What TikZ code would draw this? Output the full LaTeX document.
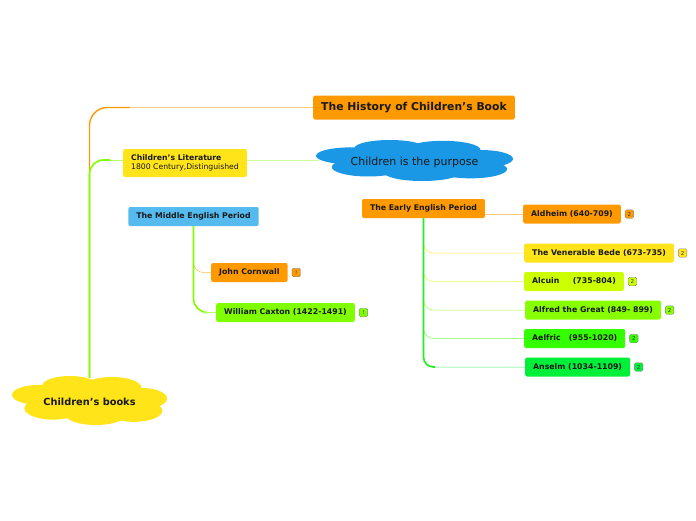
\documentclass[tikz,border=0pt]{standalone}
\usepackage{fontspec}
\setmainfont{DejaVu Sans}
\usetikzlibrary{positioning}

\definecolor{orangenode}{HTML}{FF9900}
\definecolor{yellownode}{HTML}{FFE41A}
\definecolor{cloudblue}{HTML}{1A98E6}
\definecolor{midblue}{HTML}{55BBEE}
\definecolor{limenode}{HTML}{80FF00}
\definecolor{alcuingreen}{HTML}{CCFF00}
\definecolor{alfredgreen}{HTML}{88FF00}
\definecolor{aelfricgreen}{HTML}{33FF00}
\definecolor{anselmgreen}{HTML}{00F03A}
\definecolor{stemgreen}{HTML}{22EE22}

\tikzset{
  topic/.style = {shape = rectangle, rounded corners = 2pt, inner xsep = 8pt, inner ysep = 0pt,
                  minimum height = 19pt, font = \fontsize{7.8}{8}\selectfont\bfseries, text = black!90},
  badge/.style = {shape = rectangle, rounded corners = 1.5pt, draw = gray, minimum size = 8.5pt,
                  inner sep = 0pt, font = \fontsize{5.5}{5.5}\selectfont, text = black!80},
  branch/.style = {rounded corners = 10pt, line width = 0.5pt},
  puffs/.pic = {
    \foreach \cx/\cy/\rx/\ry in {-0.65/-0.23/0.35/0.41, -0.25/-0.6/0.36/0.4, 0.29/-0.52/0.38/0.44,
                                 0.68/-0.08/0.32/0.43, 0.57/0.42/0.37/0.45, 0.08/0.58/0.39/0.42,
                                 -0.47/0.32/0.37/0.46, 0/0/0.65/0.6}
      \fill (\cx,\cy) ellipse ({\rx} and {\ry});
  }
}

\begin{document}
\begin{tikzpicture}[x = 1pt, y = -1pt]
\useasboundingbox (0,0) rectangle (696,520);

% clouds
\begin{scope}[shift = {(89.5pt,-400.5pt)}, x = 77.5pt, y = -24.5pt]
  \pic[fill = yellownode] {puffs};
\end{scope}
\begin{scope}[shift = {(414.5pt,-160.5pt)}, x = 98.5pt, y = -20.5pt]
  \pic[fill = cloudblue] {puffs};
\end{scope}

% main nodes
\node[minimum width = 150pt, minimum height = 48pt, inner sep = 0pt, text = black!90,
      font = \fontsize{9.8}{10}\selectfont\bfseries] (root) at (89.5,402) {Children's books};
\node[topic, fill = orangenode, minimum height = 24pt, font = \fontsize{10.8}{12}\selectfont\bfseries] (hist) at (414,107.5) {The History of Children's Book};
\node[topic, fill = yellownode, anchor = west, align = left, minimum height = 28pt,
      font = \fontsize{7.7}{9}\selectfont] (lit) at (123,163) {\textbf{Children's Literature}\\1800 Century,Distinguished};
\node[minimum width = 190pt, minimum height = 40pt, inner sep = 0pt, text = black!90,
      font = \fontsize{11}{12}\selectfont] (purpose) at (414.5,162) {Children is the purpose};

% middle english
\node[topic, fill = midblue] (mid) at (193.5,216.5) {The Middle English Period};
\node[topic, fill = orangenode, anchor = west] (cornwall) at (211,272.5) {John Cornwall};
\node[topic, fill = limenode, anchor = west] (caxton) at (216,312.5) {William Caxton (1422-1491)};

% early english
\node[topic, fill = orangenode] (early) at (423.5,208.5) {The Early English Period};
\node[topic, fill = orangenode, anchor = west] (aldheim) at (523,214) {Aldheim (640-709)};
\node[topic, fill = yellownode, anchor = west] (bede) at (524,253) {The Venerable Bede (673-735)};
\node[topic, fill = alcuingreen, anchor = west] (alcuin) at (524,281.5) {Alcuin\ \ \ \ \ (735-804)};
\node[topic, fill = alfredgreen, anchor = west] (alfred) at (525,310) {Alfred the Great (849- 899)};
\node[topic, fill = aelfricgreen, anchor = west] (aelfric) at (524,338.5) {Aelfric\ \ \ (955-1020)};
\node[topic, fill = anselmgreen, anchor = west] (anselm) at (525,367) {Anselm (1034-1109)};

% badges
\node[badge, fill = orangenode, right = 4pt of cornwall] (b1) {!};
\node[badge, fill = limenode, right = 4pt of caxton] (b2) {!};
\node[badge, fill = orangenode, right = 4pt of aldheim] (b3) {2};
\node[badge, fill = yellownode, right = 4pt of bede] (b4) {2};
\node[badge, fill = alcuingreen, right = 4pt of alcuin] (b5) {2};
\node[badge, fill = alfredgreen, right = 4pt of alfred] (b6) {2};
\node[badge, fill = aelfricgreen, right = 4pt of aelfric] (b7) {2};
\node[badge, fill = anselmgreen, right = 4pt of anselm] (b8) {2};

% connectors
\coordinate (hk) at (130,107.5);
\draw[rounded corners = 18pt, line width = 1.4pt, orangenode] (root.north) |- (hk);
\draw[orangenode!50, line width = 0.5pt] (hk) -- (hist.west);
\coordinate (lk) at (110,160);
\draw[rounded corners = 14pt, line width = 1.6pt, limenode] (root.north) |- (lk);
\draw[limenode!60, line width = 0.5pt] (lk) -- (lit.west |- lk);
\draw[limenode!40, line width = 0.5pt] (lit.east |- lk) -- (purpose.west |- lk);

\draw[branch, orangenode!70] ([yshift = -30pt]mid.south) |- (cornwall.west);
\draw[rounded corners = 14pt, line width = 1.6pt, limenode] (mid.south) |- ([xshift = -12pt]caxton.west);
\draw[limenode!60, line width = 0.5pt] ([xshift = -12pt]caxton.west) -- (caxton.west);

\draw[orangenode!50, line width = 0.5pt] (early.east |- aldheim.west) -- (aldheim.west);
\draw[branch, yellownode!80] (early.south) |- (bede.west);
\draw[branch, alcuingreen!70] (early.south) |- (alcuin.west);
\draw[branch, alfredgreen!70] (early.south) |- (alfred.west);
\draw[branch, aelfricgreen!70] (early.south) |- (aelfric.west);
\draw[branch, anselmgreen!70] (early.south) |- (anselm.west);
\draw[rounded corners = 10pt, line width = 1.6pt, stemgreen] (early.south) |- ([xshift = -90pt]anselm.west);
\end{tikzpicture}
\end{document}
